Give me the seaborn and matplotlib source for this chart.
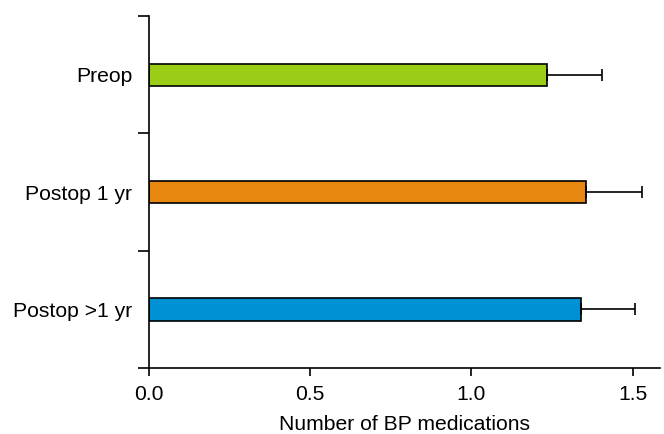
import matplotlib
matplotlib.use("Agg")
import matplotlib.pyplot as plt
import seaborn as sns
import pandas as pd
import numpy as np

categories = ["Preop", "Postop 1 yr", "Postop >1 yr"]
means = [1.235, 1.356, 1.339]
sds = [0.170, 0.173, 0.169]
colors = ["#9BCD17", "#E8870F", "#0091D5"]
xticks = [0.0, 0.5, 1.0, 1.5]

sns.set_style("ticks")
plt.rcParams["font.family"] = ["Liberation Sans", "DejaVu Sans"]
plt.rcParams["text.color"] = "black"
plt.rcParams["axes.labelcolor"] = "black"
plt.rcParams["xtick.color"] = "black"
plt.rcParams["ytick.color"] = "black"

df = pd.DataFrame({"cat": categories, "val": means})

fig = plt.figure(figsize=(6.64, 4.34), dpi=100)
ax = fig.add_axes([0.2244, 0.152, 0.77, 0.811])

sns.barplot(data=df, x="val", y="cat", hue="cat", palette=colors, orient="h",
            width=0.19, edgecolor="black", linewidth=1.2, legend=False, ax=ax,
            errorbar=None, saturation=1)

ypos = np.arange(len(categories))
ax.errorbar(means, ypos, xerr=[np.zeros(len(sds)), sds], fmt="none",
            ecolor="black", elinewidth=1.2, capsize=4, capthick=1.2, zorder=1)

ax.set_xlim(0, 1.586)
ax.set_ylim(2.5, -0.5)
ax.set_xticks(xticks)
ax.set_xticklabels([f"{t:.1f}" for t in xticks])
ax.set_yticks(ypos)
ax.set_yticklabels(categories)
ax.set_yticks([-0.5, 0.5, 1.5, 2.5], minor=True)
ax.tick_params(axis="y", which="major", length=0, pad=12, labelsize=15.2, labelcolor="black")
ax.tick_params(axis="y", which="minor", length=8, width=1.2, color="black")
ax.tick_params(axis="x", length=6, width=1.2, labelsize=15.2, color="black", labelcolor="black", pad=6)
ax.set_xlabel("Number of BP medications", fontsize=15.2, labelpad=8, color="black")
ax.set_ylabel("")
for s in ["top", "right"]:
    ax.spines[s].set_visible(False)
for s in ["left", "bottom"]:
    ax.spines[s].set_linewidth(1.2)
    ax.spines[s].set_color("black")

fig.savefig("out.png", dpi=100)
